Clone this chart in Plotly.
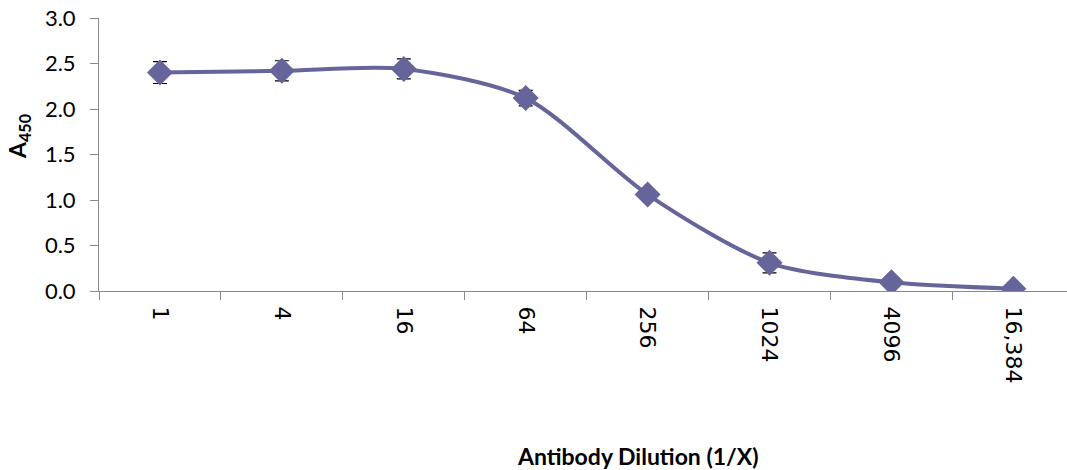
import plotly.graph_objects as go

categories = ["1", "4", "16", "64", "256", "1024", "4096", "16,384"]
a450 = [2.40, 2.42, 2.44, 2.12, 1.06, 0.31, 0.095, 0.025]
err = [0.12, 0.11, 0.11, 0.085, 0.04, 0.11, 0.035, 0.0]
y_ticks = [0, 0.5, 1.0, 1.5, 2.0, 2.5, 3.0]
y_tick_text = ["0.0", "0.5", "1.0", "1.5", "2.0", "2.5", "3.0"]

color = "#65659b"
axis_gray = "#898989"

fig = go.Figure()
fig.add_trace(go.Scatter(
    x=categories, y=a450,
    mode="lines+markers",
    line=dict(color=color, width=4, shape="spline", smoothing=0.8),
    marker=dict(symbol="diamond", size=20, color=color),
    error_y=dict(type="data", array=err, visible=True, color="black", thickness=1.2, width=7),
    showlegend=False,
))

fig.update_layout(
    width=1067, height=470,
    margin=dict(l=99, r=0, t=18, b=179),
    paper_bgcolor="white", plot_bgcolor="white",
    xaxis=dict(
        type="category", categoryorder="array", categoryarray=categories,
        range=[-0.5, 7.44],
        tickson="boundaries", ticks="outside", ticklen=8, tickcolor=axis_gray,
        showline=True, linecolor=axis_gray, linewidth=1,
        showgrid=False, zeroline=False,
        tickangle=90, ticklabelstandoff=10,
        tickfont=dict(family="DejaVu Sans", size=22, color="black"),
    ),
    yaxis=dict(
        range=[0, 3.0], tickvals=y_ticks, ticktext=y_tick_text,
        ticks="outside", ticklen=8, tickcolor=axis_gray,
        showline=True, linecolor=axis_gray, linewidth=1,
        showgrid=False, zeroline=False, ticklabelstandoff=10,
        tickfont=dict(family="Lato", size=22, color="black"),
    ),
    annotations=[
        dict(text="<b>A<sub>450</sub></b>", xref="paper", yref="paper",
             x=-99/968 + 18/968, y=(291-137)/273, xanchor="center", yanchor="middle",
             textangle=-90, showarrow=False,
             font=dict(family="Lato", size=23, color="black")),
        dict(text="<b>Antibody Dilution (1/X)</b>", xref="paper", yref="paper",
             x=(638-99)/968, y=-(456-291)/273, xanchor="center", yanchor="middle",
             showarrow=False,
             font=dict(family="Lato", size=23, color="black")),
    ],
)

fig.write_html("out.html")
